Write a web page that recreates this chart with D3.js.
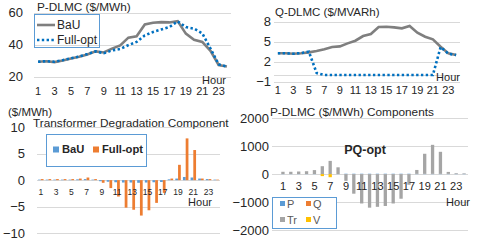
<!DOCTYPE html>
<html lang="en">
  <head>
    <meta charset="utf-8" />
    <title>DLMC panels</title>
    <script src="https://d3js.org/d3.v7.min.js"></script>
    <style>
      body {
        margin: 0;
        background: #fff;
      }
      svg {
        display: block;
        font-family: "Liberation Sans", Arial, sans-serif;
      }
      .grid {
        stroke: #d9d9d9;
        stroke-width: 1px;
      }
      .zero {
        stroke: #d9d9d9;
        stroke-width: 1px;
      }
      text {
        fill: #262626;
      }
      .line-bau {
        fill: none;
        stroke: #7f7f7f;
        stroke-width: 2.6px;
      }
      .line-full {
        fill: none;
        stroke: #0070c0;
        stroke-width: 2.6px;
        stroke-dasharray: 2.4, 2.4;
      }
      .legend-box {
        fill: #fff;
        stroke: #5b9bd5;
        stroke-width: 1px;
      }
    </style>
  </head>
  <body>
    <script>
      // data
      let hours = [1, 2, 3, 4, 5, 6, 7, 8, 9, 10, 11, 12, 13, 14, 15, 16, 17, 18, 19, 20, 21, 22, 23, 24];
      let hourTicks = [1, 3, 5, 7, 9, 11, 13, 15, 17, 19, 21, 23];

      let pBaU = [29.2, 29.5, 29, 30, 31.2, 32.3, 33.8, 35.7, 35, 37.4, 39.4, 44.3, 45.1, 52.5, 53.6, 54, 53.8, 54.6, 46.8, 43, 41.6, 36, 27.2, 26.2];
      let pFull = [29.2, 29.6, 29.2, 30.2, 31.4, 32.5, 34, 35.7, 34.6, 36.3, 37.2, 39.6, 41.6, 45.7, 47.8, 49.4, 50.9, 54.4, 50.9, 49.9, 47, 37.5, 27.6, 26.2];
      let pTicks = [20, 40, 60];

      let qBaU = [3.26, 3.26, 3.2, 3.26, 3.4, 3.6, 3.86, 4.2, 4.3, 4.75, 5.15, 5.85, 6.15, 7.2, 7.25, 7.15, 7.0, 7.35, 6.35, 5.75, 5.35, 4.25, 3.25, 3.0];
      let qFull = [3.26, 3.26, 3.2, 3.3, 3.5, 0.3, 0, 0, 0, 0, 0, 0, 0, 0, 0, 0, 0, 0, 0, 0, 0, 4.2, 3.2, 3.0];
      let qTicks = [-1, 2, 5, 8];

      let trBaU = [0.1, 0.1, 0.1, 0.1, 0.1, 0.15, 0.2, 0.1, -0.2, -0.3, -0.4, -0.45, -0.45, -0.5, -0.45, -0.4, -0.35, 0.15, 0.3, 0.6, 0.5, 0.3, 0.2, 0.1];
      let trFull = [0.2, 0.2, 0.2, 0.2, 0.2, 0.3, 0.5, 0.2, -0.5, -1.5, -3.1, -5.2, -5.6, -6.7, -5.7, -4.3, -2.4, 0.3, 2.9, 7.9, 5.7, 0.3, 0.2, 0.1];
      let trTicks = [-10, -5, 0, 5, 10];

      let compP = [5, 5, 5, 5, 5, 5, 5, 5, 15, 15, 15, 15, 15, 15, 15, 15, 15, 10, 10, 10, 10, 10, 10, 10];
      let compQ = [0, 0, 0, 0, 0, 0, 0, 0, 0, 0, 0, 0, 0, 0, 0, 0, 0, 0, 0, 0, 0, 0, 0, 0];
      let compTr = [80, 80, 90, 100, 140, 280, 470, 240, -240, -700, -1050, -1200, -1170, -1140, -1050, -880, -380, 140, 720, 1040, 790, 70, 25, 20];
      let compV = [0, 0, 0, 0, 0, -70, -110, 0, 0, 0, 0, 0, 0, 0, 0, 0, 0, 0, 0, 0, 0, 0, 0, 0];
      let compTicks = [-2000, -1000, 0, 1000, 2000];

      let svg = d3.select("body").append("svg").attr("width", 478).attr("height", 241);

      function txt(x, y, s, size, opts = {}) {
        return svg
          .append("text")
          .attr("x", x)
          .attr("y", y)
          .attr("dy", "0.35em")
          .attr("text-anchor", opts.anchor || "start")
          .style("font-size", size + "px")
          .style("font-weight", opts.bold ? "bold" : "normal")
          .style("fill", opts.fill || "#262626")
          .text(s);
      }

      function grid(y, ticks, x0, x1) {
        svg
          .append("g")
          .selectAll("line")
          .data(ticks)
          .join("line")
          .attr("class", "grid")
          .attr("x1", x0)
          .attr("x2", x1)
          .attr("y1", (d) => Math.round(y(d)) + 0.5)
          .attr("y2", (d) => Math.round(y(d)) + 0.5);
      }

      function yAxis(y, ticks, xRight, size) {
        svg
          .append("g")
          .attr("transform", `translate(${xRight},0)`)
          .call(d3.axisLeft(y).tickValues(ticks).tickFormat(d3.format("d")).tickSize(0).tickPadding(0))
          .call((g) => g.select(".domain").remove())
          .selectAll("text")
          .attr("font-size", null)
          .attr("fill", null)
          .style("font-size", size + "px")
          .style("font-family", "Liberation Sans, Arial, sans-serif");
      }

      function hourAxis(x, yPos, size) {
        svg
          .append("g")
          .attr("transform", `translate(0,${yPos})`)
          .call(d3.axisBottom(x).tickValues(hourTicks).tickSize(0).tickPadding(0))
          .call((g) => g.select(".domain").remove())
          .selectAll("text")
          .attr("y", 0)
          .attr("dy", "0.35em")
          .attr("fill", null)
          .attr("font-size", null)
          .style("font-size", size + "px")
          .style("font-family", "Liberation Sans, Arial, sans-serif");
      }

      // ---------- panel 1: P-DLMC ----------
      let x1 = d3.scaleBand().domain(hours).range([34, 231]);
      let y1 = d3.scaleLinear().domain([20, 60]).range([76.5, 12.5]);
      grid(y1, pTicks, 34, 231);
      yAxis(y1, pTicks, 23, 13);
      hourAxis(x1, 91, 11);
      txt(214, 80, "Hour", 11, { anchor: "middle" });

      let line1 = d3
        .line()
        .x((d, i) => x1(hours[i]) + x1.bandwidth() / 2)
        .y((d) => y1(d));
      svg.append("path").attr("class", "line-bau").attr("d", line1(pBaU));
      svg.append("path").attr("class", "line-full").attr("d", line1(pFull));

      txt(37, 6.5, "P-DLMC ($/MWh)", 11.8);

      svg.append("rect").attr("class", "legend-box").attr("x", 34.5).attr("y", 14.5).attr("width", 65).attr("height", 33).style("fill", "none");
      svg.append("line").attr("class", "line-bau").attr("x1", 37).attr("x2", 55).attr("y1", 25).attr("y2", 25);
      svg.append("line").attr("class", "line-full").attr("x1", 37).attr("x2", 55).attr("y1", 40).attr("y2", 40);
      txt(57, 25, "BaU", 12);
      txt(57, 40, "Full-opt", 12);

      // ---------- panel 2: Q-DLMC ----------
      let x2 = d3.scaleBand().domain(hours).range([274, 460]);
      let y2 = d3.scaleLinear().domain([-1, 8]).range([81.7, 21.7]);
      grid(y2, qTicks, 274, 460);
      svg
        .append("line")
        .attr("class", "zero")
        .attr("x1", 274)
        .attr("x2", 460)
        .attr("y1", Math.round(y2(0)) + 0.5)
        .attr("y2", Math.round(y2(0)) + 0.5);
      yAxis(y2, qTicks, 271, 13);
      hourAxis(x2, 90, 11);

      let line2 = d3
        .line()
        .x((d, i) => x2(hours[i]) + x2.bandwidth() / 2)
        .y((d) => y2(d));
      svg.append("path").attr("class", "line-bau").attr("d", line2(qBaU));
      svg.append("path").attr("class", "line-full").attr("d", line2(qFull));
      txt(448, 77, "Hour", 11, { anchor: "middle" });
      txt(275, 12, "Q-DLMC ($/MVARh)", 11.5);

      // ---------- panel 3: transformer degradation ----------
      let x3 = d3.scaleBand().domain(hours).range([37, 220]).paddingInner(0.28).paddingOuter(0.14);
      let x3in = d3.scaleBand().domain(["BaU", "Full-opt"]).range([0, x3.bandwidth()]);
      let y3 = d3.scaleLinear().domain([-10, 10]).range([233, 127.3]);
      grid(y3, trTicks, 37, 220);
      yAxis(y3, trTicks, 25, 13);

      let colors3 = { BaU: "#5b9bd5", "Full-opt": "#ed7d31" };
      let bars3 = [];
      hours.forEach((h, i) => {
        bars3.push({ h: h, s: "BaU", v: trBaU[i] });
        bars3.push({ h: h, s: "Full-opt", v: trFull[i] });
      });
      svg
        .append("g")
        .selectAll("rect")
        .data(bars3)
        .join("rect")
        .attr("x", (d) => x3(d.h) + x3in(d.s))
        .attr("width", x3in.bandwidth())
        .attr("y", (d) => y3(Math.max(0, d.v)))
        .attr("height", (d) => Math.abs(y3(d.v) - y3(0)))
        .attr("fill", (d) => colors3[d.s]);

      hourAxis(x3, 192, 8.5);
      txt(200, 202, "Hour", 11, { anchor: "middle" });
      txt(8, 112, "($/MWh)", 11.5);
      txt(33, 123, "Transformer Degradation Component", 11.8);

      svg.append("rect").attr("class", "legend-box").attr("x", 46.5).attr("y", 134.5).attr("width", 100).attr("height", 32);
      svg.append("rect").attr("x", 53).attr("y", 146.5).attr("width", 6).attr("height", 6).attr("fill", colors3.BaU);
      svg.append("rect").attr("x", 93).attr("y", 146.5).attr("width", 6).attr("height", 6).attr("fill", colors3["Full-opt"]);
      txt(62, 149.5, "BaU", 11.2, { bold: true });
      txt(102, 149.5, "Full-opt", 11.2, { bold: true });

      // ---------- panel 4: P-DLMC components ----------
      let x4 = d3.scaleBand().domain(hours).range([279, 468]).paddingInner(0.58).paddingOuter(0.29);
      let y4 = d3.scaleLinear().domain([-2000, 2000]).range([230, 118.3]);
      grid(y4, compTicks, 272, 468);
      yAxis(y4, compTicks, 269, 13);

      let compKeys = ["P", "Q", "Tr", "V"];
      let compColors = { P: "#5b9bd5", Q: "#ed7d31", Tr: "#a5a5a5", V: "#ffc000" };
      let compRows = hours.map((h, i) => ({ h: h, P: compP[i], Q: compQ[i], Tr: compTr[i], V: compV[i] }));
      let stacked = d3.stack().keys(compKeys).offset(d3.stackOffsetDiverging)(compRows);

      svg
        .append("g")
        .selectAll("g")
        .data(stacked)
        .join("g")
        .attr("fill", (s) => compColors[s.key])
        .selectAll("rect")
        .data((s) => s)
        .join("rect")
        .attr("x", (d) => x4(d.data.h))
        .attr("width", x4.bandwidth())
        .attr("y", (d) => y4(d[1]))
        .attr("height", (d) => Math.abs(y4(d[0]) - y4(d[1])));

      hourAxis(x4, 186, 11);
      txt(458, 202, "Hour", 11, { anchor: "middle" });
      txt(270, 112, "P-DLMC ($/MWh) Components", 11.8);
      txt(365, 150, "PQ-opt", 12.5, { bold: true, anchor: "middle" });

      svg.append("rect").attr("class", "legend-box").attr("x", 272.5).attr("y", 197.5).attr("width", 64).attr("height", 31);
      let legend4 = [
        { k: "P", x: 280, y: 204 },
        { k: "Q", x: 306, y: 204 },
        { k: "Tr", x: 280, y: 220 },
        { k: "V", x: 306, y: 220 },
      ];
      legend4.forEach((d) => {
        svg.append("rect").attr("x", d.x).attr("y", d.y - 3).attr("width", 5).attr("height", 5).attr("fill", compColors[d.k]);
        txt(d.x + 7, d.y, d.k, 11, { fill: "#595959" });
      });
    </script>
  </body>
</html>
